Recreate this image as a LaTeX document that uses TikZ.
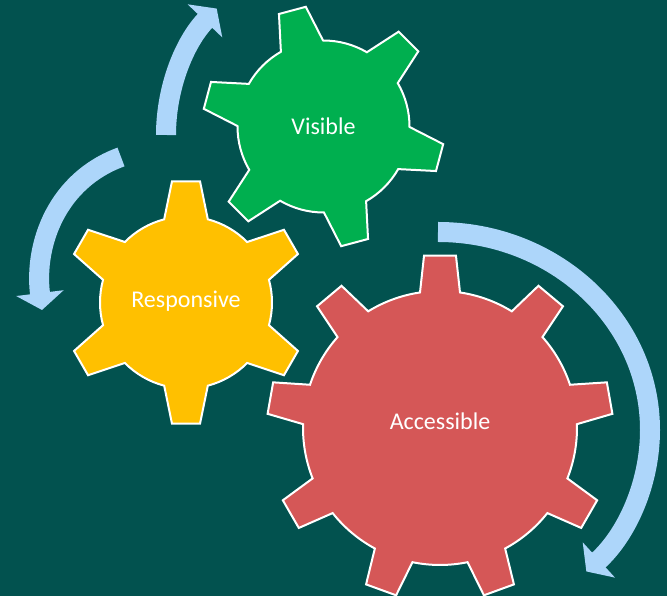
\documentclass[tikz,border=0pt]{standalone}
\usepackage{fontspec}
\setmainfont{Carlito}
\usetikzlibrary{arrows.meta}
\definecolor{bgteal}{HTML}{02524F}
\definecolor{geargreen}{HTML}{00AF4F}
\definecolor{gearyellow}{HTML}{FFC000}
\definecolor{gearred}{HTML}{D55757}
\definecolor{arrowblue}{HTML}{ADD6FA}
% #1 fill, #2 centre, #3 inner r, #4 outer r, #5 teeth, #6 first angle, #7 base half-angle, #8 tip half-angle
\newcommand\drawgear[8]{%
  \draw[gearline, fill=#1, shift={(#2)}] ({#6+#7}:#3)
    \foreach \k in {1,...,#5}{
      -- ({#6-(\k-1)*360/#5+#8}:#4)
      -- ({#6-(\k-1)*360/#5-#8}:#4)
      -- ({#6-(\k-1)*360/#5-#7}:#3)
      arc[start angle={#6-(\k-1)*360/#5-#7}, end angle={#6-\k*360/#5+#7}, radius=#3]
    } -- cycle;
}
\begin{document}
\begin{tikzpicture}[x=1pt,y=1pt,
  gearline/.style={draw=white, line width=2pt, line join=miter},
  cyclearrow/.style={draw=arrowblue, line width=20pt, -{Triangle[width=47pt,length=17pt]}},
  gearlabel/.style={text=white, font=\fontsize{24}{28}\selectfont, inner sep=0pt}]
\useasboundingbox (0,0) rectangle (667,596);
\fill[bgteal] (0,0) rectangle (667,596);

% gear centres
\coordinate (gv) at (323.5,469.5);
\coordinate (gr) at (186,293.5);
\coordinate (ga) at (440,168);

% gears
\drawgear{geargreen}{gv}{86pt}{121pt}{6}{105}{14.7}{6.6}
\drawgear{gearyellow}{gr}{86pt}{122pt}{6}{90}{14.7}{6.6}
\drawgear{gearred}{ga}{137pt}{173pt}{9}{90}{8.4}{5.3}

% labels
\node[gearlabel] (tv) at (gv) {Visible};
\node[gearlabel] (tr) at (186,295) {Responsive};
\node[gearlabel] (ta) at (440,175) {Accessible};

% arrows
\coordinate (a1c) at (349,461);
\draw[cyclearrow] (a1c) ++(180:183pt) arc[start angle=180, end angle=136.3, radius=183pt];

\coordinate (a2s) at (121,439);
\coordinate (a2e) at (42,286);
\draw[cyclearrow] (a2s) to[out=200, in=97] (a2e);

\coordinate (a3c) at (438,166);
\draw[cyclearrow] (a3c) ++(90:198pt) arc[start angle=90, end angle=-45.6, x radius=212pt, y radius=198pt];
\end{tikzpicture}
\end{document}
